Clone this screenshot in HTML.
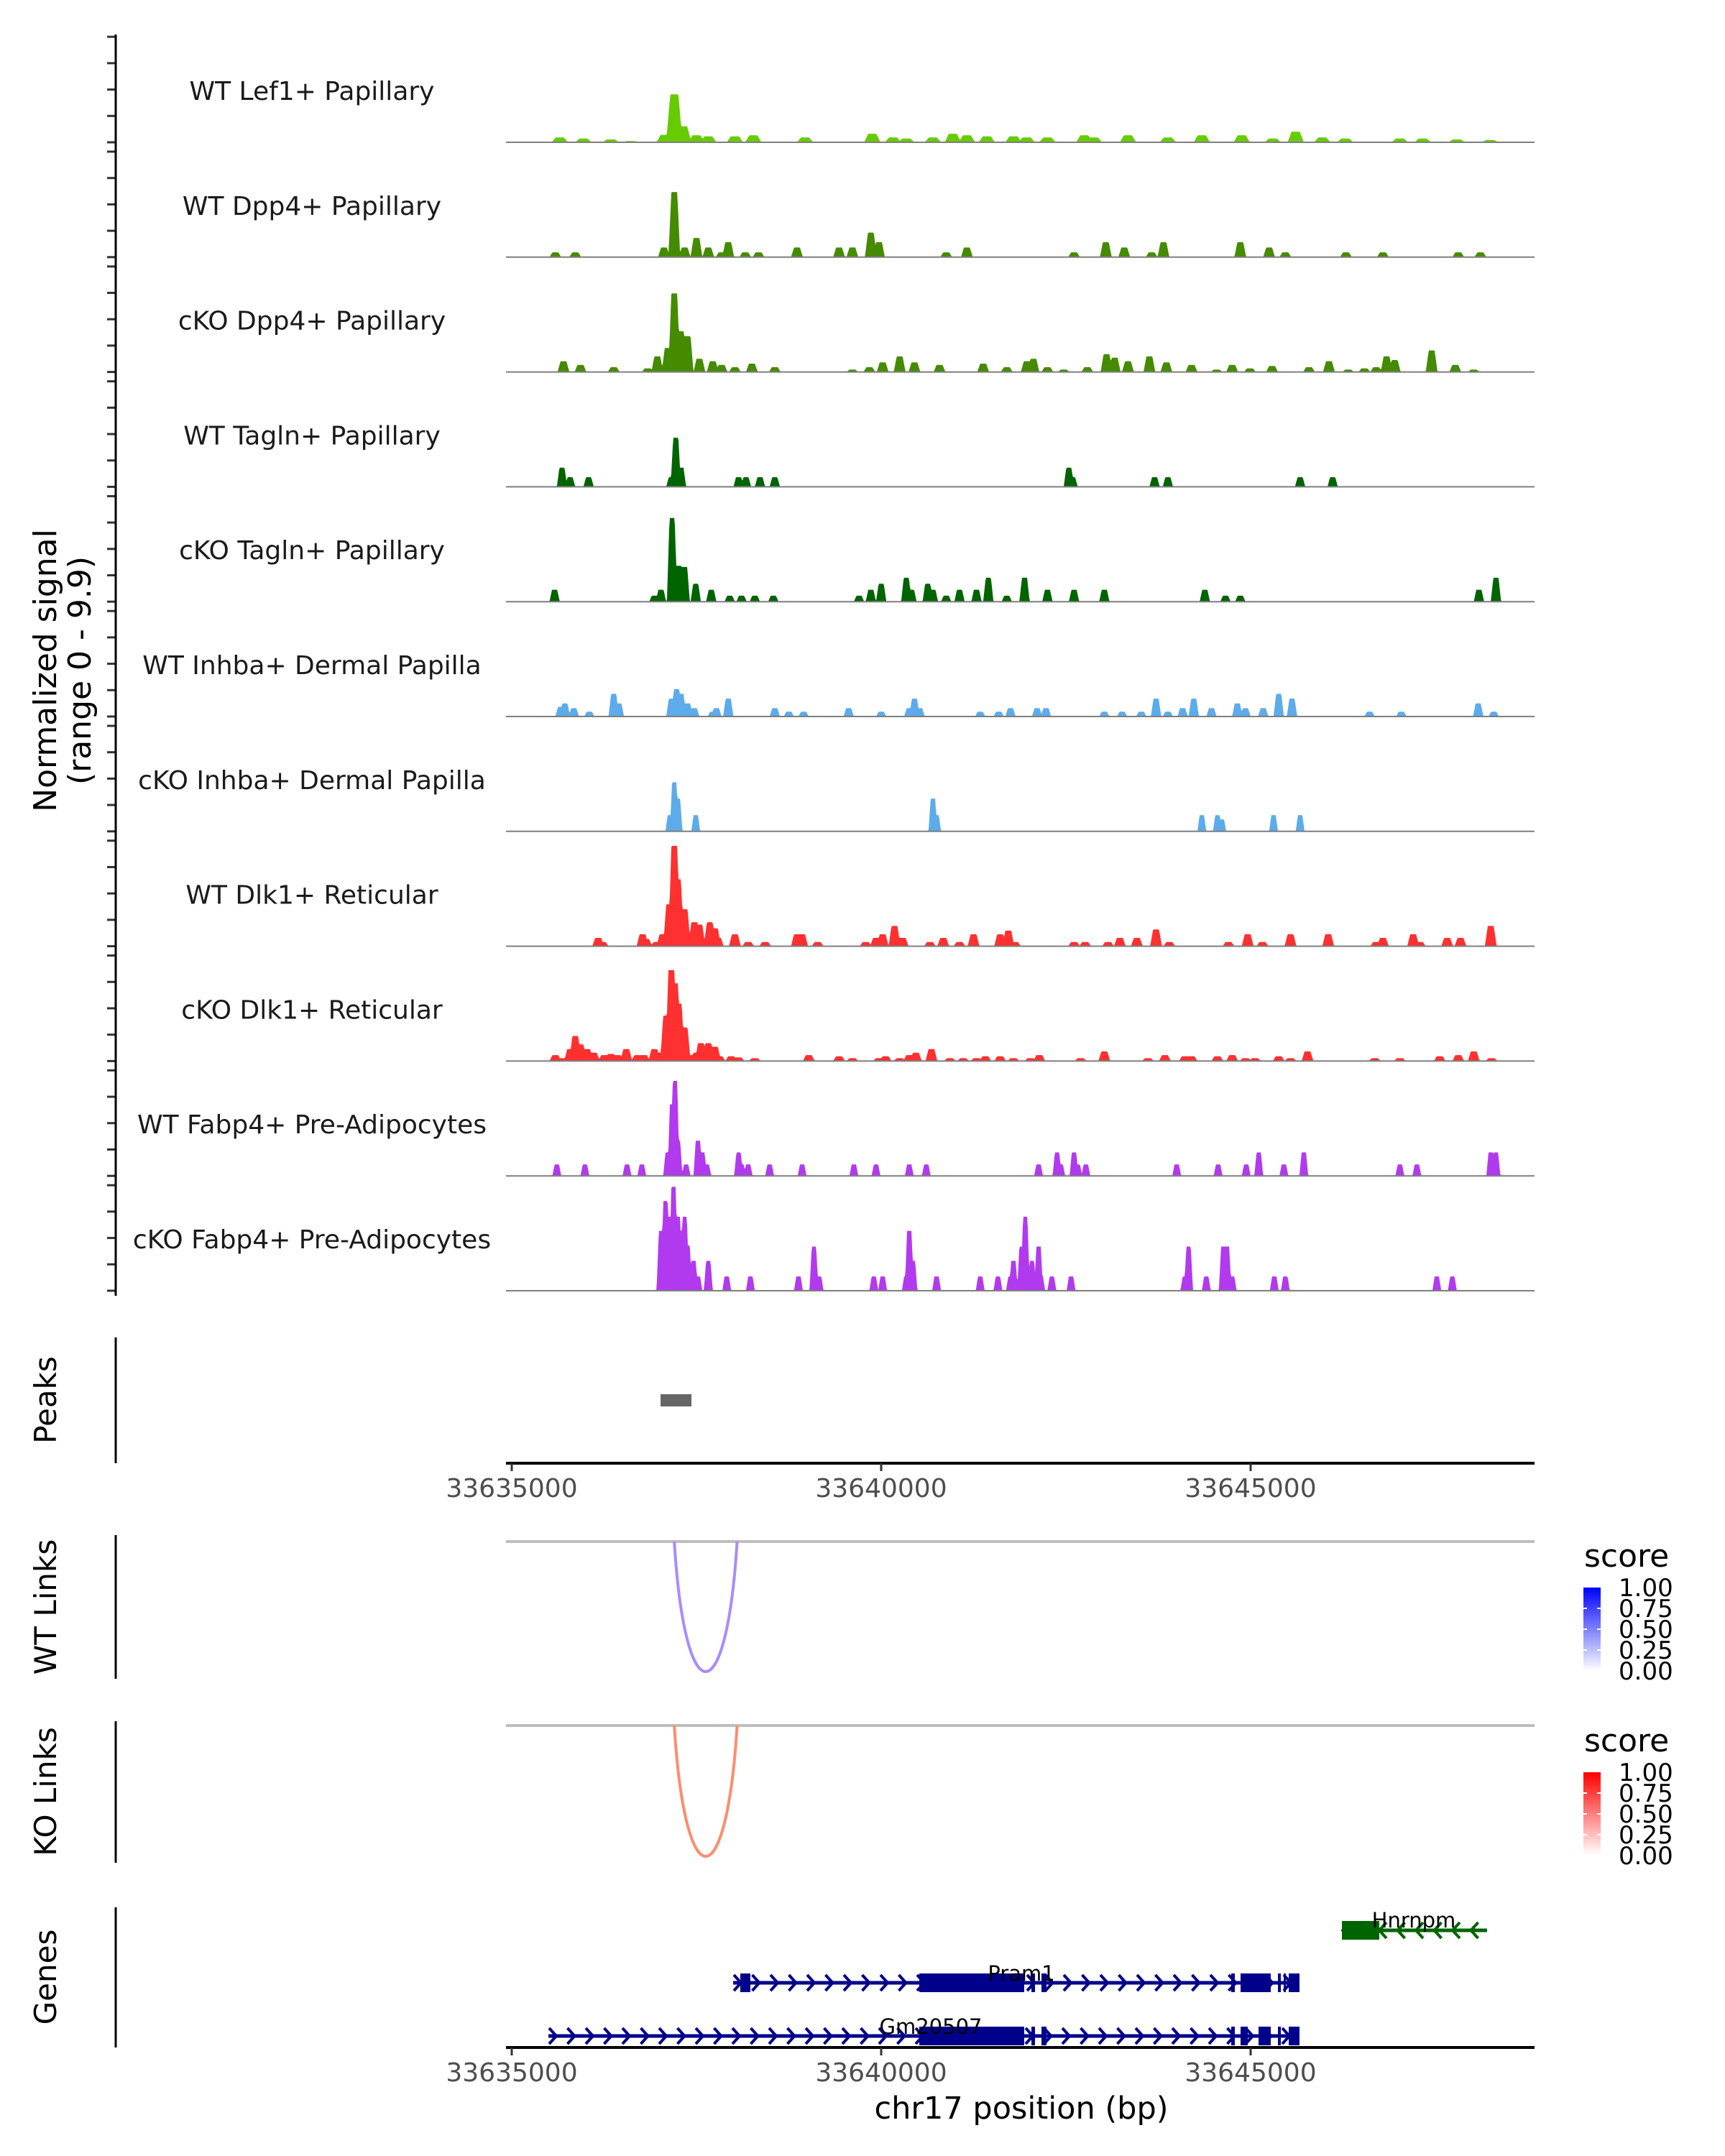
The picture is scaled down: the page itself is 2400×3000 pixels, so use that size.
<!DOCTYPE html>
<html><head><meta charset="utf-8">
<style>
html,body{margin:0;padding:0;background:#fff;}
svg{display:block;font-family:"DejaVu Sans","Liberation Sans",sans-serif;}
</style></head>
<body>
<svg id="chart" width="2400" height="3000" viewBox="0 0 2400 3000" xmlns="http://www.w3.org/2000/svg">
<defs>
<linearGradient id="gBlue" x1="0" y1="1" x2="0" y2="0"><stop offset="0" stop-color="#ffffff"/><stop offset="1" stop-color="#0000ff"/></linearGradient>
<linearGradient id="gRed" x1="0" y1="1" x2="0" y2="0"><stop offset="0" stop-color="#ffffff"/><stop offset="1" stop-color="#ff0000"/></linearGradient>
</defs>
<g id="tracks"></g>
<text transform="translate(78,933) rotate(-90)" text-anchor="middle" font-size="44" fill="#000">Normalized signal</text>
<text transform="translate(126,933) rotate(-90)" text-anchor="middle" font-size="44" fill="#000">(range 0 - 9.9)</text>
<g id="lower"></g>
</svg>
<script>
// ---- data ----
const trackNames = ["WT Lef1+ Papillary","WT Dpp4+ Papillary","cKO Dpp4+ Papillary","WT Tagln+ Papillary","cKO Tagln+ Papillary","WT Inhba+ Dermal Papilla","cKO Inhba+ Dermal Papilla","WT Dlk1+ Reticular","cKO Dlk1+ Reticular","WT Fabp4+ Pre-Adipocytes","cKO Fabp4+ Pre-Adipocytes"];
const trackColors = ["#66cc00","#458b00","#458b00","#006400","#006400","#5dabea","#5dabea","#ff3030","#ff3030","#b23aee","#b23aee"];
// peak positions in kb from 33635000, signal heights (0-9.9)
const lef1Pos = [0.65,0.97,1.34,1.61,2.07,2.20,2.32,2.50,2.66,3.02,3.27,3.97,4.88,5.16,5.34,5.70,5.97,6.16,6.43,6.79,6.97,7.25,7.75,7.88,8.34,8.88,9.34,9.88,10.30,10.61,10.97,11.28,12.02,12.33,12.79,13.24];
const lef1Sig = [0.45,0.35,0.27,0.12,0.7,4.5,1.5,0.65,0.55,0.55,0.65,0.45,0.8,0.45,0.35,0.45,0.8,0.65,0.55,0.55,0.45,0.45,0.65,0.45,0.65,0.45,0.65,0.65,0.35,1.0,0.45,0.35,0.35,0.35,0.27,0.22];
const wtDppPos = [0.59,0.86,2.06,2.20,2.34,2.50,2.66,2.84,2.93,3.16,3.34,3.86,4.43,4.61,4.86,4.97,5.88,6.16,7.61,8.04,8.29,8.66,8.82,9.86,10.25,10.47,11.29,11.79,12.81,13.11];
const wtDppSig = [0.45,0.45,0.9,6.1,0.9,1.8,0.9,0.45,1.4,0.45,0.45,0.9,0.9,0.9,2.3,1.4,0.45,0.9,0.45,1.4,0.9,0.45,1.4,1.4,0.9,0.45,0.45,0.45,0.45,0.45];
const koDppPos = [0.70,0.93,1.38,1.84,1.97,2.11,2.20,2.29,2.38,2.54,2.72,2.84,3.02,3.25,3.56,4.61,4.84,5.02,5.25,5.45,5.79,6.38,6.70,6.97,7.06,7.25,7.47,7.79,8.05,8.16,8.34,8.63,8.86,9.20,9.54,9.75,9.99,10.29,10.79,11.06,11.32,11.54,11.70,11.84,11.95,12.45,12.77,13.02];
const koDppSig = [1.0,0.67,0.45,0.34,1.46,2.24,7.37,3.81,3.36,1.23,1.01,0.67,0.45,0.78,0.45,0.22,0.45,0.9,1.46,0.9,0.67,0.78,0.45,1.01,1.23,0.45,0.22,0.45,1.68,1.34,1.01,1.46,0.9,0.67,0.22,0.67,0.34,0.56,0.45,1.01,0.22,0.34,0.45,1.46,1.12,2.02,0.67,0.22];
const wtTagPos = [0.68,0.79,1.04,2.16,2.22,2.29,3.07,3.17,3.36,3.56,7.54,7.59,8.70,8.88,10.67,11.11];
const wtTagSig = [1.79,0.9,0.9,0.9,4.6,1.79,0.9,0.9,0.9,0.9,1.79,0.9,0.9,0.9,0.9,0.9];
const koTagPos = [0.58,1.93,2.02,2.17,2.26,2.34,2.49,2.70,2.95,3.11,3.29,3.54,4.70,4.86,5.00,5.34,5.41,5.63,5.70,5.88,6.06,6.29,6.45,6.70,6.94,7.25,7.61,8.02,9.38,9.66,9.86,13.09,13.32];
const koTagSig = [1.12,0.56,1.12,7.84,3.36,3.25,1.68,1.12,0.56,0.56,0.56,0.56,0.56,1.12,1.68,2.24,1.12,1.68,1.12,0.56,1.12,1.12,2.24,0.56,2.24,1.12,1.12,1.12,1.12,0.56,0.56,1.12,2.24];
const wtInhPos = [0.66,0.72,0.84,1.05,1.38,1.45,2.16,2.23,2.29,2.38,2.47,2.72,2.77,2.93,3.56,3.75,3.95,4.56,5.00,5.38,5.45,5.52,6.34,6.59,6.75,7.11,7.23,8.02,8.26,8.52,8.72,8.88,9.08,9.23,9.47,9.82,9.93,10.17,10.38,10.56,11.61,12.04,13.08,13.29];
const wtInhSig = [0.9,1.23,0.78,0.45,2.13,1.23,1.68,2.58,2.13,1.23,0.78,0.45,0.78,1.68,0.78,0.45,0.45,0.78,0.45,0.78,1.68,0.78,0.45,0.45,0.78,0.78,0.78,0.45,0.45,0.45,1.68,0.45,0.78,1.68,0.78,1.23,0.78,0.78,2.13,1.68,0.45,0.45,1.23,0.45];
const koInhPos = [2.14,2.20,2.25,2.49,5.70,5.75,9.34,9.55,9.61,10.31,10.67];
const koInhSig = [1.52,4.6,3.07,1.52,3.07,1.52,1.52,1.52,1.12,1.52,1.52];
const wtDlkPos = [1.17,1.23,1.77,1.82,1.96,2.04,2.13,2.20,2.25,2.34,2.47,2.54,2.68,2.75,2.79,3.02,3.20,3.43,3.86,3.93,4.14,4.79,4.93,5.02,5.18,5.29,5.66,5.84,6.06,6.25,6.61,6.72,6.81,7.61,7.76,8.07,8.23,8.46,8.72,8.90,9.70,9.96,10.16,10.54,11.05,11.70,11.79,12.20,12.29,12.66,12.84,13.25];
const wtDlkSig = [0.78,0.40,1.12,0.67,0.40,1.12,3.92,9.4,6.27,3.47,2.24,2.02,2.24,1.68,0.78,1.12,0.40,0.40,1.12,1.12,0.40,0.40,0.78,1.12,1.9,0.78,0.40,0.78,0.40,1.12,1.12,1.46,0.40,0.40,0.40,0.40,0.78,0.78,1.57,0.40,0.40,1.12,0.40,1.12,1.12,0.40,0.78,1.12,0.40,0.78,0.78,1.9];
const koDlkPos = [0.59,0.70,0.79,0.86,0.93,1.02,1.11,1.25,1.34,1.43,1.55,1.70,1.79,1.93,2.02,2.09,2.16,2.21,2.26,2.34,2.43,2.50,2.56,2.66,2.75,2.81,2.97,3.07,3.29,4.02,4.43,4.61,4.97,5.06,5.25,5.38,5.47,5.68,5.93,6.11,6.29,6.41,6.61,6.79,7.02,7.14,7.70,8.02,8.61,8.84,9.11,9.20,9.55,9.75,9.93,10.06,10.38,10.54,10.77,11.68,12.02,12.56,12.81,13.02,13.26];
const koDlkSig = [0.56,0.27,1.12,2.35,1.57,1.12,0.78,0.56,0.67,0.56,1.12,0.56,0.56,1.12,0.78,4.26,8.51,7.28,5.38,3.14,0.56,0.78,1.68,1.68,1.34,0.45,0.45,0.34,0.27,0.56,0.45,0.27,0.27,0.45,0.27,0.56,0.78,1.12,0.27,0.27,0.27,0.45,0.45,0.27,0.27,0.56,0.27,0.9,0.27,0.56,0.45,0.45,0.45,0.56,0.27,0.27,0.45,0.27,0.9,0.27,0.27,0.45,0.56,0.9,0.27];
const wtFabPos = [0.61,0.99,1.56,1.76,2.11,2.17,2.21,2.25,2.36,2.52,2.58,2.64,3.07,3.11,3.20,3.49,3.93,4.63,4.93,5.38,5.61,7.13,7.38,7.43,7.61,7.66,7.77,9.00,9.56,9.94,10.11,10.45,10.72,12.02,12.25,13.25,13.32];
const wtFabSig = [1.07,1.07,1.07,1.07,2.2,6.7,8.9,3.3,1.07,3.3,2.2,1.07,2.2,1.07,1.07,1.07,1.07,1.07,1.07,1.07,1.07,1.07,2.2,1.07,2.2,1.07,1.07,1.07,1.07,1.07,2.2,1.07,2.2,1.07,1.07,2.2,2.2];
const koFabPos = [2.02,2.08,2.14,2.19,2.25,2.29,2.34,2.38,2.46,2.52,2.66,2.91,3.23,3.88,4.09,4.16,4.90,5.02,5.34,5.38,5.43,5.75,6.34,6.58,6.75,6.79,6.90,6.95,7.04,7.13,7.16,7.31,7.57,9.11,9.16,9.40,9.63,9.68,9.75,10.32,10.47,12.52,12.73];
const koFabSig = [5.6,8.4,6.94,9.74,6.94,5.6,6.94,4.25,2.8,1.34,2.8,1.34,1.34,1.34,4.14,1.34,1.34,1.34,1.34,5.6,2.8,1.34,1.34,1.34,1.34,2.8,4.14,6.94,2.8,4.14,1.34,1.34,1.34,1.34,4.14,1.34,4.14,4.14,1.34,1.34,1.34,1.34,1.34];
const xTicks = [33635000,33640000,33645000];
const peakStarts = [33637014];
const peakEnds = [33637432];
const wtLinkStart = [33637200];
const wtLinkEnd = [33638050];
const wtLinkScore = [0.35];
const koLinkStart = [33637200];
const koLinkEnd = [33638050];
const koLinkScore = [0.45];
const legendLabels = ["1.00","0.75","0.50","0.25","0.00"];

// ---- scales ----
const NS="http://www.w3.org/2000/svg";
const X0=712, PXBP=514/5000, XL=704, XR=2135;
function xbp(bp){return X0+(bp-33635000)*PXBP;}
function ysig(s){return s/9.9*147;}
function mk(tag,attrs,parent){const e=document.createElementNS(NS,tag);for(const k in attrs)e.setAttribute(k,attrs[k]);parent.appendChild(e);return e;}
const svg=document.getElementById('chart');
const tracksG=document.getElementById('tracks');
const lower=document.getElementById('lower');
const allPos=[lef1Pos,wtDppPos,koDppPos,wtTagPos,koTagPos,wtInhPos,koInhPos,wtDlkPos,koDlkPos,wtFabPos,koFabPos];
const allSig=[lef1Sig,wtDppSig,koDppSig,wtTagSig,koTagSig,wtInhSig,koInhSig,wtDlkSig,koDlkSig,wtFabSig,koFabSig];
const halfW=[0.11,0.08,0.08,0.07,0.07,0.07,0.06,0.08,0.08,0.06,0.06];

// left axis
let ax=mk('line',{x1:161,y1:48,x2:161,y2:1803,stroke:'#000','stroke-width':3},svg);



for(let t=0;t<11;t++){
  const base=198+t*159.8;
  for(let k=0;k<5;k++){
    const ty=base-k*36.7;
    const tk=mk('line',{x1:149,y1:ty,x2:161,y2:ty,stroke:'#333','stroke-width':3},tracksG);
    
    
  }
  const pos=allPos[t], sig=allSig[t], hw=halfW[t];
  const n=Math.min(pos.length,sig.length);
  let d='M'+XL+' '+base;
  for(let px=XL;px<=XR;px++){
    const kb=(px-X0)/(1000*PXBP);
    let v=0;
    for(let i=0;i<n;i++){
      const dd=Math.abs(kb-pos[i]);
      if(dd<hw){const f=dd<=hw*0.5?1:1-(dd-hw*0.5)/(hw*0.5); v=Math.max(v,sig[i]*f);}
    }
    d+=' L'+px+' '+(base-ysig(v)).toFixed(1);
  }
  d+=' L'+XR+' '+base+' Z';
  const area=mk('path',{d:d,fill:trackColors[t]},tracksG);
  
  
  const bl=mk('line',{x1:XL,y1:base,x2:XR,y2:base,stroke:'#7f7f7f','stroke-width':2},tracksG);
  
  
  const lb=mk('text',{x:434,y:base-71+12,'text-anchor':'middle','font-size':36,fill:'#1a1a1a'},tracksG);
  lb.textContent=trackNames[t];
  
  
}

function panelAxis(y1,y2,label,cy){
  const l=mk('line',{x1:161,y1:y1,x2:161,y2:y2,stroke:'#000','stroke-width':3},lower);
  
  
  const t=mk('text',{transform:'translate(78,'+cy+') rotate(-90)','text-anchor':'middle','font-size':42,fill:'#000'},lower);
  t.textContent=label;
  
  
}
function xAxis(y){
  const l=mk('line',{x1:XL,y1:y,x2:XR,y2:y,stroke:'#000','stroke-width':4},lower);
  
  
  xTicks.forEach(v=>{
    const tk=mk('line',{x1:xbp(v),y1:y,x2:xbp(v),y2:y+11,stroke:'#333','stroke-width':3},lower);
    
    
    const tl=mk('text',{x:xbp(v),y:y+47,'text-anchor':'middle','font-size':36,fill:'#4d4d4d'},lower);
    tl.textContent=String(v);
    
    
  });
}

// Peaks
panelAxis(1861,2036,'Peaks',1948);
for(let i=0;i<peakStarts.length;i++){
  const r=mk('rect',{x:xbp(peakStarts[i]),y:1940,width:xbp(peakEnds[i])-xbp(peakStarts[i]),height:17,fill:'#666666'},lower);
  
  
}
xAxis(2036);

function linkPanel(y1,y2,label,cy,lineY,starts,ends,scores,col,depth){
  panelAxis(y1,y2,label,cy);
  const g=mk('line',{x1:XL,y1:lineY,x2:XR,y2:lineY,stroke:'#bebebe','stroke-width':4},lower);
  
  
  for(let i=0;i<starts.length;i++){
    const a=xbp(starts[i]),b=xbp(ends[i]),w=b-a,c=lineY+depth/0.75;
    const p=mk('path',{d:`M${a} ${lineY} C${a+w*0.17} ${c} ${b-w*0.17} ${c} ${b} ${lineY}`,fill:'none',stroke:col,'stroke-width':4},lower);
    
    
  }
}
linkPanel(2136,2336,'WT Links',2236,2145,wtLinkStart,wtLinkEnd,wtLinkScore,'#a98bff',181);
linkPanel(2395,2592,'KO Links',2493,2401,koLinkStart,koLinkEnd,koLinkScore,'#ff8c6e',182);

function legend(ty,barTop,grad,name){
  const t=mk('text',{x:2204,y:ty,'font-size':44,fill:'#000'},lower);
  t.textContent='score';
  
  
  const r=mk('rect',{x:2203,y:barTop,width:24,height:116,fill:'url(#'+grad+')'},lower);
  
  
  legendLabels.forEach((s,i)=>{
    const yy=barTop+i*29;
    if(i>0&&i<4){mk('line',{x1:2203,y1:yy,x2:2208,y2:yy,stroke:'#fff','stroke-width':2},lower);mk('line',{x1:2222,y1:yy,x2:2227,y2:yy,stroke:'#fff','stroke-width':2},lower);}
    const l=mk('text',{x:2252,y:yy+12,'font-size':34,fill:'#000'},lower);
    l.textContent=s;
    
    
  });
}
legend(2180,2209,'gBlue','wt-score-legend');
legend(2437,2466,'gRed','ko-score-legend');

// Genes
panelAxis(2654,2849,'Genes',2751);
function gene(name,y,start,end,exons,col,dir,lx,ly){
  const g=mk('g',{},lower);
  
  
  mk('line',{x1:start,y1:y,x2:end,y2:y,stroke:col,'stroke-width':5},g);
  for(let x=start+6;x<end-4;x+=25.5){
    const pts=dir>0?`${x-5},${y-11} ${x+5},${y} ${x-5},${y+11}`:`${x+5},${y-11} ${x-5},${y} ${x+5},${y+11}`;
    mk('polyline',{points:pts,fill:'none',stroke:col,'stroke-width':4},g);
  }
  exons.forEach(e=>mk('rect',{x:e[0],y:y-13,width:e[1]-e[0],height:26,fill:col},g));
  const t=mk('text',{x:lx,y:ly,'text-anchor':'middle','font-size':29,fill:'#000'},lower);
  t.textContent=name;
  
  
}
gene('Hnrnpm',2686,1867,2069,[[1867,1919]],'#006400',-1,1967,2682);
gene('Pram1',2759,1020,1808,[[1030,1044],[1279,1425],[1435,1440],[1449,1456],[1713,1718],[1726,1768],[1778,1782],[1786,1789],[1793,1808]],'#00008b',1,1421,2756);
gene('Gm20507',2833,763,1808,[[1279,1425],[1435,1440],[1449,1456],[1713,1718],[1726,1736],[1751,1768],[1778,1782],[1793,1808]],'#00008b',1,1295,2830);
xAxis(2849);
const xt=mk('text',{x:1421,y:2948,'text-anchor':'middle','font-size':43,fill:'#000'},lower);
xt.textContent='chr17 position (bp)';


</script>
</body></html>
